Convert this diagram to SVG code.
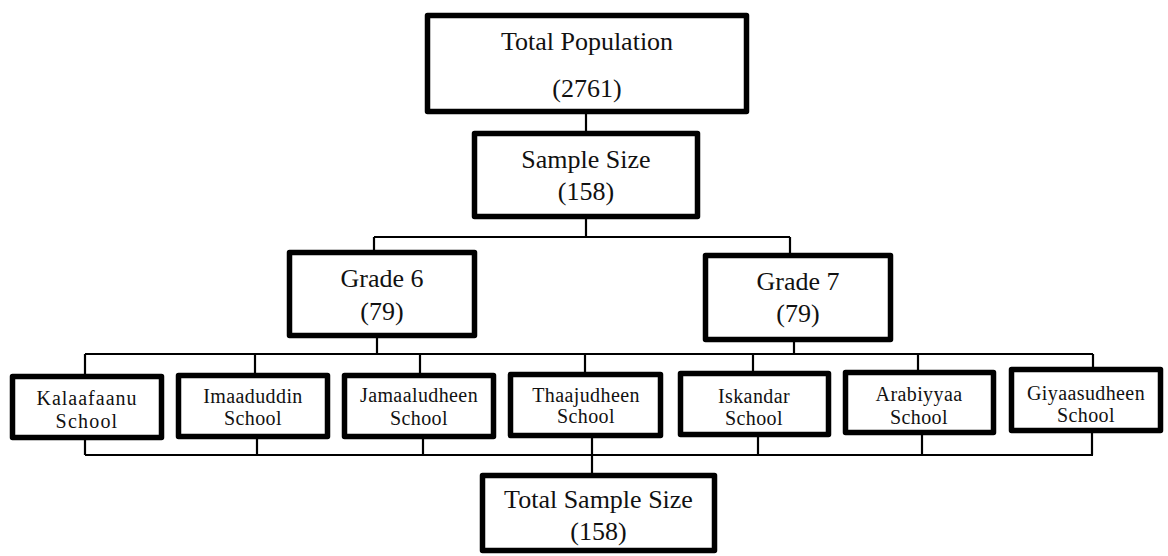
<svg xmlns="http://www.w3.org/2000/svg" width="1168" height="556" viewBox="0 0 1168 556">
<style>
.box{fill:#fff;stroke:#000;stroke-width:5.5;stroke-linejoin:round}
.con{fill:none;stroke:#000;stroke-width:2.2}
.big{font-size:26px;fill:#111;text-anchor:middle}
.sm{font-size:20px;fill:#111;text-anchor:middle;letter-spacing:0.4px}
</style>
<rect width="1168" height="556" fill="#fff"/>
<g id="connectors">
<path class="con" d="M586 114V131M586 219V237M374 237H790M374 237V250M790 237V253"/>
<path class="con" d="M377 338V354M794 342V354M85 354H1093"/>
<path class="con" d="M85 354V374M255 354V373M420 354V373M585 354V372M753 354V371M918 354V370M1093 354V367"/>
<path class="con" d="M85 440V455M257 439V455M423 439V455M592 438V455M758 437V455M922 435V455M1092 433V455M85 455H1093"/>
<path class="con" d="M592 455V473"/>
</g>
<g font-family="Liberation Serif, DejaVu Serif, serif">
<g id="total-population">
<rect class="box" x="427.5" y="15.5" width="319" height="96"/>
<text class="big" x="587" y="50">Total Population</text>
<text class="big" x="587" y="97">(2761)</text>
</g>
<g id="sample-size">
<rect class="box" x="474.5" y="133.5" width="223" height="83"/>
<text class="big" x="586" y="168">Sample Size</text>
<text class="big" x="586" y="200">(158)</text>
</g>
<g id="grade-6">
<rect class="box" x="289.5" y="252.5" width="185" height="83"/>
<text class="big" x="382" y="287">Grade 6</text>
<text class="big" x="382" y="320">(79)</text>
</g>
<g id="grade-7">
<rect class="box" x="705.5" y="255.5" width="185" height="84"/>
<text class="big" x="798" y="290">Grade 7</text>
<text class="big" x="798" y="322">(79)</text>
</g>
<g id="kalaafaanu">
<rect class="box" x="12.5" y="376.5" width="149" height="61"/>
<text class="sm" x="87" y="405" style="letter-spacing:1px">Kalaafaanu</text>
<text class="sm" x="87" y="428" style="letter-spacing:1.2px">School</text>
</g>
<g id="imaaduddin">
<rect class="box" x="178.5" y="375.5" width="149" height="61"/>
<text class="sm" x="253" y="403">Imaaduddin</text>
<text class="sm" x="253" y="425">School</text>
</g>
<g id="jamaaludheen">
<rect class="box" x="344.5" y="375.5" width="149" height="61"/>
<text class="sm" x="419" y="402">Jamaaludheen</text>
<text class="sm" x="419" y="425">School</text>
</g>
<g id="thaajudheen">
<rect class="box" x="510.5" y="374.5" width="150" height="61"/>
<text class="sm" x="586" y="402">Thaajudheen</text>
<text class="sm" x="586" y="423">School</text>
</g>
<g id="iskandar">
<rect class="box" x="680.5" y="373.5" width="148" height="61"/>
<text class="sm" x="754" y="403">Iskandar</text>
<text class="sm" x="754" y="425">School</text>
</g>
<g id="arabiyyaa">
<rect class="box" x="845.5" y="372.5" width="148" height="60"/>
<text class="sm" x="919" y="401">Arabiyyaa</text>
<text class="sm" x="919" y="424">School</text>
</g>
<g id="giyaasudheen">
<rect class="box" x="1011.5" y="369.5" width="149" height="61"/>
<text class="sm" x="1086" y="400">Giyaasudheen</text>
<text class="sm" x="1086" y="422">School</text>
</g>
<g id="total-sample-size">
<rect class="box" x="482.5" y="475.5" width="232" height="75"/>
<text class="big" x="598.5" y="508">Total Sample Size</text>
<text class="big" x="598.5" y="540">(158)</text>
</g>
</g>
</svg>
